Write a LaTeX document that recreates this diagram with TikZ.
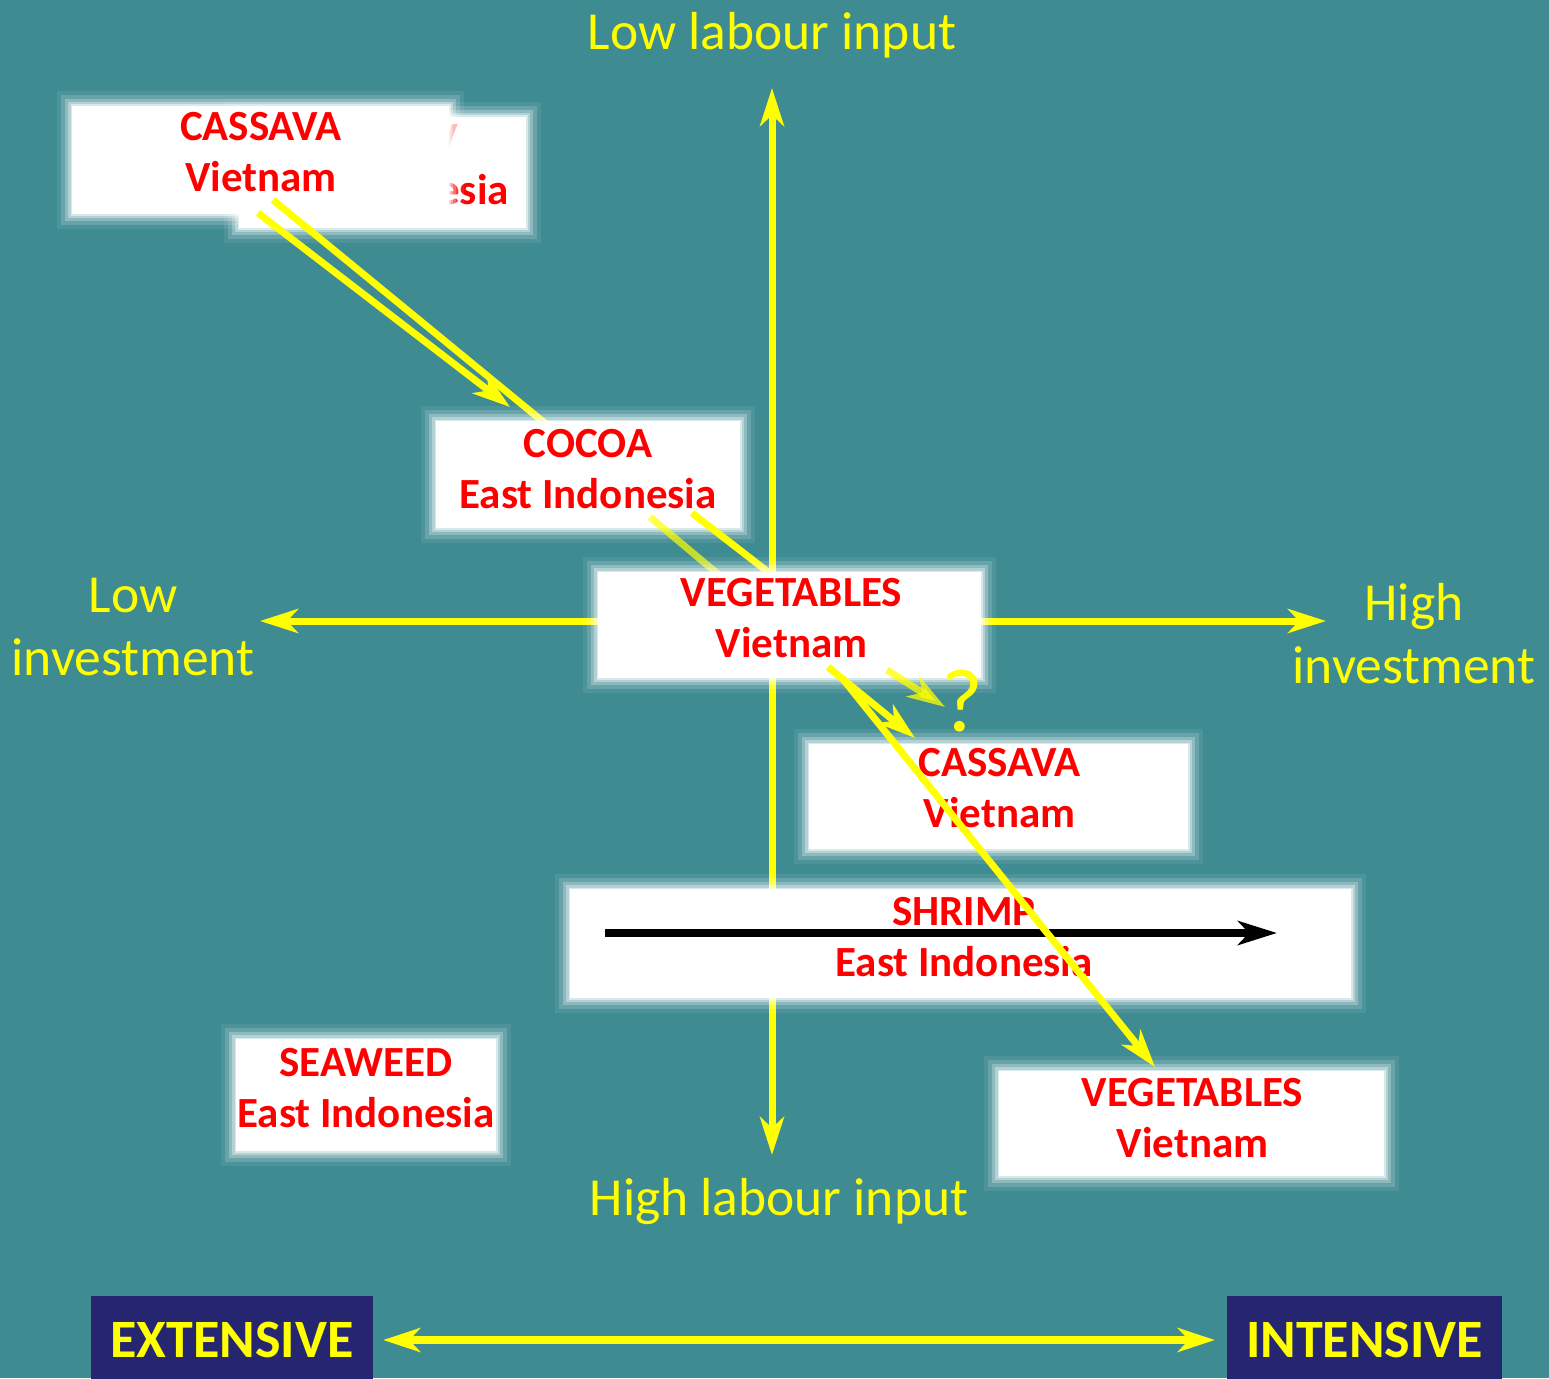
\documentclass[tikz,border=0pt]{standalone}
\usepackage{fontspec}
\setmainfont{Carlito}
\usetikzlibrary{arrows.meta}

\definecolor{bgteal}{RGB}{62,139,146}
\definecolor{navyblue}{RGB}{38,38,112}
\definecolor{hiyellow}{RGB}{255,255,0}
\definecolor{croprd}{RGB}{255,0,0}

\tikzset{
  softbox/.style={fill=white, inner sep=0pt,
    preaction={draw=white, draw opacity=0.08, line width=30pt},
    preaction={draw=white, draw opacity=0.15, line width=22pt},
    preaction={draw=white, draw opacity=0.25, line width=14pt},
    preaction={draw=white, draw opacity=0.35, line width=8pt},
    preaction={draw=white, draw opacity=0.50, line width=3pt}},
  croptext/.style={text=croprd, font=\bfseries\fontsize{43}{51}\selectfont,
    align=center, inner sep=0pt},
  axislabel/.style={text=hiyellow, font=\fontsize{53.5}{63}\selectfont,
    align=center, inner sep=0pt},
  yarrow/.style={-{Stealth[length=38pt, width=24pt, inset=11pt]}},
  axisline/.style={draw=hiyellow, line width=7pt, yarrow},
  link/.style={draw=hiyellow, line width=7pt},
  linkarrow/.style={link, yarrow},
  scalebox/.style={fill=navyblue, text=hiyellow, inner sep=0pt,
    font=\bfseries\fontsize{54}{60}\selectfont},
}

\begin{document}
\begin{tikzpicture}[x=1pt, y=-1pt]
  % background
  \fill[bgteal] (0,0) rectangle (1549,1378);
  \useasboundingbox (0,0) rectangle (1549,1378);

  % axes
  \coordinate (origin) at (772,621);
  \coordinate (axtop) at (772,88);
  \coordinate (axbottom) at (772,1155);
  \coordinate (axleft) at (260,621);
  \coordinate (axright) at (1326,621);
  \draw[axisline] (origin) -- (axtop);
  \draw[axisline] (origin) -- (axbottom);
  \draw[axisline] (origin) -- (axleft);
  \draw[axisline] (origin) -- (axright);

  % axis labels
  \node[axislabel, anchor=base] (lowlabour) at (772,50) {Low labour input};
  \node[axislabel, anchor=base] (highlabour) at (779,1215) {High labour input};
  \node[axislabel, anchor=north] (lowinv) at (133,578) {Low\\investment};
  \node[axislabel, anchor=north] (highinv) at (1414,583) {High\\investment};

  % partly hidden box at top left
  \node[softbox, minimum width=287pt, minimum height=111pt] (hiddenbox) at (382.5,172.5) {};
  \node[croptext, anchor=base east, text opacity=0.45] (hiddenA) at (458,152) {V};
  \node[croptext, anchor=base east] (hiddenB) at (509,204) {esia};

  % cassava, Vietnam (top left)
  \node[softbox, minimum width=377pt, minimum height=108pt] (cassavaTL) at (260.5,160) {};
  \node[croptext] (cassavaTLtext) at (261,152.5) {CASSAVA\\Vietnam};

  % links from the top-left box down to cocoa
  \coordinate (l1a) at (273,200);
  \coordinate (l1b) at (552,429);
  \coordinate (l2a) at (258,213);
  \coordinate (l2b) at (510,407);
  \draw[link] (l1a) -- (l1b);
  \draw[linkarrow] (l2a) -- (l2b);

  % cocoa, East Indonesia
  \node[softbox, minimum width=304pt, minimum height=107pt] (cocoa) at (588,474.5) {};
  \node[croptext] (cocoatext) at (588,469) {COCOA\\East Indonesia};

  % links from cocoa to the central box
  \coordinate (l3a) at (692,513);
  \coordinate (l3b) at (772,575);
  \coordinate (l4a) at (650,517);
  \coordinate (l4b) at (725,580);
  \draw[link] (l3a) -- (l3b);
  \draw[link, draw opacity=0.7] (l4a) -- (l4b);

  % vegetables, Vietnam (centre)
  \node[softbox, minimum width=383pt, minimum height=106pt] (vegC) at (789.5,625) {};
  \node[croptext] (vegCtext) at (791.5,618.5) {VEGETABLES\\Vietnam};

  % cassava, Vietnam (right)
  \node[softbox, minimum width=379pt, minimum height=105pt] (cassavaR) at (998.5,796.5) {};
  \node[croptext] (cassavaRtext) at (999.5,788.5) {CASSAVA\\Vietnam};

  % shrimp, East Indonesia
  \node[softbox, minimum width=781pt, minimum height=109pt] (shrimp) at (960.5,943.5) {};
  \node[croptext] (shrimptext) at (964,937) {SHRIMP\\East Indonesia};
  \coordinate (shrimpA) at (605,933);
  \coordinate (shrimpB) at (1277,933);
  \draw[line width=8pt, -{Stealth[length=39pt, width=24pt, inset=11pt]}] (shrimpA) -- (shrimpB);

  % seaweed, East Indonesia
  \node[softbox, minimum width=260pt, minimum height=112pt] (seaweed) at (366,1095) {};
  \node[croptext] (seaweedtext) at (366,1088) {SEAWEED\\East Indonesia};

  % vegetables, Vietnam (bottom right)
  \node[softbox, minimum width=385pt, minimum height=105pt] (vegBR) at (1191.5,1123.5) {};
  \node[croptext] (vegBRtext) at (1192.5,1118) {VEGETABLES\\Vietnam};

  % links leaving the central box
  \coordinate (l5a) at (842,678);
  \coordinate (l5b) at (1155,1067);
  \coordinate (l6a) at (828,667);
  \coordinate (l6b) at (915,738);
  \coordinate (l7a) at (887,670);
  \coordinate (l7b) at (945,707);
  \draw[linkarrow] (l5a) -- (l5b);
  \draw[linkarrow] (l6a) -- (l6b);
  \draw[linkarrow, draw opacity=0.75, fill opacity=0.75] (l7a) -- (l7b);
  \node[text=hiyellow, font=\fontsize{90}{100}\selectfont, anchor=base, inner sep=0pt] (query) at (962,731) {?};

  % extensive / intensive scale
  \node[scalebox, minimum width=282pt, minimum height=88pt] (extensive) at (232,1340) {EXTENSIVE};
  \node[scalebox, minimum width=275pt, minimum height=88pt] (intensive) at (1364.5,1340) {INTENSIVE};
  \draw[draw=hiyellow, line width=8pt, shorten <=10pt, shorten >=12pt,
        {Stealth[length=37pt, width=24pt, inset=11pt]}-{Stealth[length=37pt, width=24pt, inset=11pt]}]
        (extensive.east) -- (intensive.west);
\end{tikzpicture}
\end{document}
